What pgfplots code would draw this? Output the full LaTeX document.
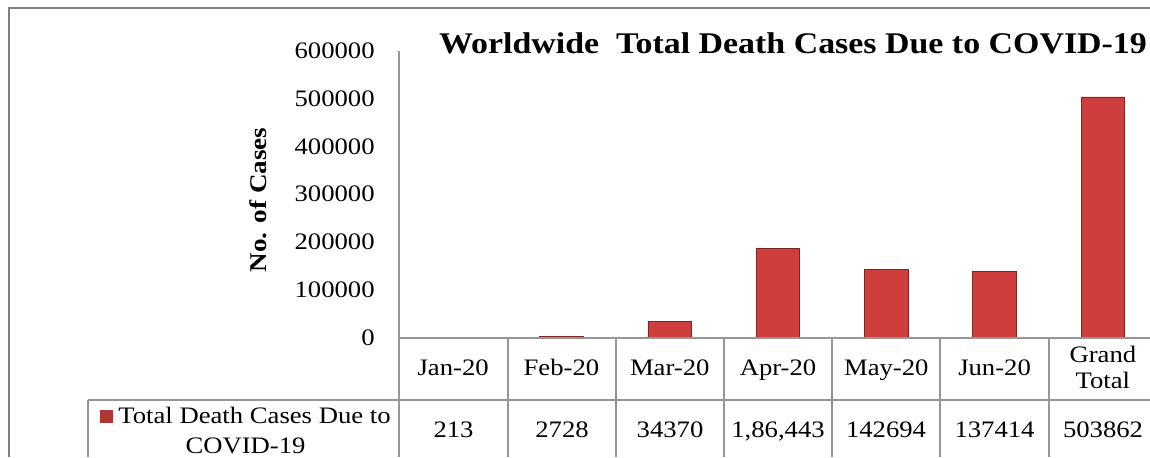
\documentclass[border=0pt]{standalone}
\usepackage{fontspec}
\setmainfont{Liberation Serif}[FakeStretch=1.13]
\usepackage{pgfplots}
\pgfplotsset{compat=1.18}
\definecolor{barred}{RGB}{206,62,60}
\definecolor{gridgray}{RGB}{150,150,150}
\definecolor{framegray}{RGB}{128,128,128}
\begin{document}
\begin{tikzpicture}[x=0.5pt,y=0.5pt]
\useasboundingbox (0,0) rectangle (1150,457);
\clip (0,0) rectangle (1150,457);
\fill[white] (0,0) rectangle (1150,457);
\begin{axis}[
  at={(199.5pt,59.75pt)}, anchor=south west,
  width=379pt, height=143.25pt, scale only axis,
  xmin=-0.5, xmax=6.5, ymin=0, ymax=600000,
  axis lines*=left, axis line style={draw=none},
  ytick={0,100000,200000,300000,400000,500000,600000},
  scaled y ticks=false,
  /pgf/number format/assume math mode=true,
  yticklabel style={/pgf/number format/fixed, /pgf/number format/1000 sep={}, anchor=east, inner sep=0pt, xshift=-12pt, font=\fontsize{11.8}{14}\selectfont},
  xtick={0,1,2,3,4,5,6},
  xticklabels={Jan-20,Feb-20,Mar-20,Apr-20,May-20,Jun-20,{\raisebox{-6.5pt}{\begin{tabular}[b]{@{}c@{}}Grand\\Total\end{tabular}}}},
  xticklabel style={anchor=base, inner sep=0pt, yshift=-19pt, font=\fontsize{11.8}{13}\selectfont},
  major tick length=0pt,
  ybar, bar width=21.75pt,
]
\addplot[draw=barred!60!black, line width=0.4pt, fill=barred] coordinates {(0,213) (1,2728) (2,34370) (3,186443) (4,142694) (5,137414) (6,503862)};
\end{axis}
% table grid
\begin{scope}[gridgray, line width=0.75pt]
\draw (399,406) -- (399,0);
\draw (399,119) -- (1150,119);
\draw (88,57) -- (1150,57);
\draw (88,57) -- (88,0);
\foreach \x in {508,616,724,832,940,1049} \draw (\x,119) -- (\x,0);
\end{scope}
% values row
\begin{scope}[font=\fontsize{11.8}{14}\selectfont, inner sep=0pt]
\node[anchor=base] at (453.5,20) {213};
\node[anchor=base] at (562,20) {2728};
\node[anchor=base] at (670,20) {34370};
\node[anchor=base] at (778,20) {1,86,443};
\node[anchor=base] at (886,20) {142694};
\node[anchor=base] at (994.5,20) {137414};
\node[anchor=base] at (1103,20) {503862};
\node[anchor=base] at (245.5,34) {\fontsize{11.8}{15}\selectfont\begin{tabular}[t]{@{}c@{}}{\color{barred!85!black}\rule{6.5pt}{6.5pt}}\kern2.5pt Total Death Cases Due to\\COVID-19\end{tabular}};
\end{scope}
% y label
\node[rotate=90, font=\fontsize{12}{15}\selectfont\bfseries] at (258,257) {No. of Cases};
% title
\node[anchor=base, inner sep=0pt, font=\fontsize{15}{18}\selectfont\bfseries] at (793,404) {Worldwide\ \ Total Death Cases Due to COVID-19};
% frame
\draw[framegray, line width=1pt] (8.5,0) -- (8.5,449.5) -- (1150,449.5);
\end{tikzpicture}
\end{document}
